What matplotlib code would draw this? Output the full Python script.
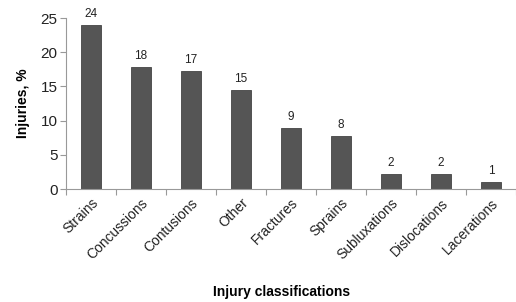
import matplotlib
matplotlib.use("Agg")
import matplotlib.pyplot as plt

categories = ["Strains", "Concussions", "Contusions", "Other", "Fractures",
              "Sprains", "Subluxations", "Dislocations", "Lacerations"]
values = [24.0, 17.8, 17.3, 14.5, 8.9, 7.8, 2.2, 2.2, 1.1]
value_labels = ["24", "18", "17", "15", "9", "8", "2", "2", "1"]
yticks = [0, 5, 10, 15, 20, 25]

plt.rcParams['font.family'] = ['Liberation Sans', 'DejaVu Sans']

fig = plt.figure(figsize=(5.16, 3.02), dpi=100)
ax = fig.add_axes([0.128, 0.374, 0.872, 0.566])

x = list(range(len(categories)))
ax.bar(x, values, width=0.4, color='#555555', edgecolor='#444444', linewidth=0.6)
for xi, v, lab in zip(x, values, value_labels):
    ax.annotate(lab, (xi, v), xytext=(0, 3.5), textcoords='offset points',
                ha='center', va='bottom', fontsize=8.5, color='#222222')

ax.set_xlim(-0.5, len(categories) - 0.5)
ax.set_ylim(0, 25)
ax.set_yticks(yticks)
ax.set_yticklabels([str(t) for t in yticks], fontsize=11, color='#222222')
ax.set_xticks(x)
ax.set_xticklabels(categories, rotation=45, ha='right', rotation_mode='anchor',
                   fontsize=10, color='#222222')
ax.set_xticks([i + 0.5 for i in range(-1, len(categories))], minor=True)
ax.tick_params(axis='x', which='major', length=0, pad=5)
ax.tick_params(axis='x', which='minor', length=4, color='#999999', width=0.8)
ax.tick_params(axis='y', length=4, color='#999999', width=0.8, pad=2)

for s in ['top', 'right']:
    ax.spines[s].set_visible(False)
for s in ['left', 'bottom']:
    ax.spines[s].set_color('#999999')
    ax.spines[s].set_linewidth(0.8)

ax.set_ylabel("Injuries, %", fontsize=10, fontweight='bold', labelpad=8)
fig.text(0.545, 0.01, "Injury classifications", ha='center', va='bottom',
         fontsize=10, fontweight='bold')

fig.savefig("out.png", dpi=100, facecolor='white')
